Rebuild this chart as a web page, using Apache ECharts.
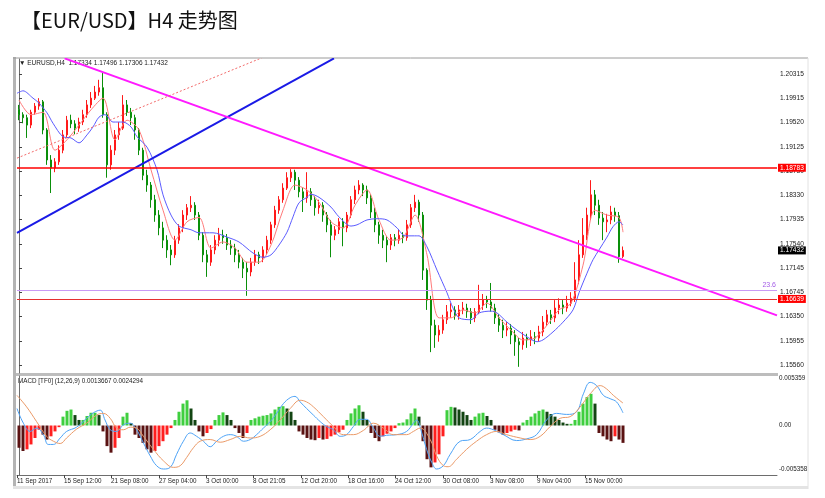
<!DOCTYPE html>
<html><head><meta charset="utf-8">
<script src="https://cdn.jsdelivr.net/npm/echarts@6/dist/echarts.min.js"></script>
<style>html,body{margin:0;padding:0;background:#fff}#c{width:825px;height:498px}</style>
</head><body><div id="c"></div>
<script>
const titleText = '【EUR/USD】H4 走势图';
const headerText = '▼ EURUSD,H4  1.17334 1.17496 1.17306 1.17432';
const macdHeader = 'MACD [TF0] (12,26,9) 0.0013667 0.0024294';

const priceTicks = [1.20315, 1.19915, 1.19520, 1.19125, 1.18730, 1.18330, 1.17935, 1.17540, 1.17145, 1.16745, 1.16350, 1.15955, 1.15560];
const macdTicks = [0.005359, 0, -0.005358];
const timeTickPos = [-0.5, 11.25, 23, 35, 46.75, 58.5, 70.5, 82.25, 94, 106, 117.75, 129.5, 141.5];
const timeTickLabels = ['11 Sep 2017', '15 Sep 12:00', '21 Sep 08:00', '27 Sep 04:00', '3 Oct 00:00', '8 Oct 21:05', '12 Oct 20:00', '18 Oct 16:00', '24 Oct 12:00', '30 Oct 08:00', '3 Nov 08:00', '9 Nov 04:00', '15 Nov 00:00'];

// [open, close, low, high]
const candles = [
[1.1973,1.1965,1.1956,1.1981],[1.1965,1.1960,1.1951,1.1969],[1.1960,1.1948,1.1927,1.1965],[1.1948,1.1969,1.1943,1.1973],
[1.1969,1.1979,1.1965,1.1984],[1.1979,1.1986,1.1973,1.1992],[1.1986,1.1940,1.1933,1.1989],[1.1940,1.1891,1.1883,1.1943],
[1.1891,1.1878,1.1837,1.1899],[1.1878,1.1888,1.1871,1.1894],[1.1888,1.1907,1.1883,1.1915],[1.1907,1.1932,1.1902,1.1940],
[1.1932,1.1956,1.1927,1.1963],[1.1956,1.1950,1.1943,1.1965],[1.1950,1.1943,1.1933,1.1956],[1.1943,1.1953,1.1937,1.1960],
[1.1953,1.1965,1.1948,1.1973],[1.1965,1.1981,1.1960,1.1989],[1.1981,1.1992,1.1976,1.2002],[1.1992,1.2002,1.1989,1.2012],
[1.2002,1.2009,1.1996,1.2022],[1.2009,1.1965,1.1960,1.2033],[1.1965,1.1883,1.1862,1.1969],[1.1883,1.1907,1.1875,1.1915],
[1.1907,1.1932,1.1899,1.1940],[1.1932,1.1943,1.1924,1.1953],[1.1943,1.1981,1.1940,1.1997],[1.1981,1.1969,1.1963,1.1989],
[1.1969,1.1960,1.1948,1.1976],[1.1960,1.1940,1.1924,1.1965],[1.1940,1.1907,1.1899,1.1943],[1.1907,1.1866,1.1858,1.1911],
[1.1866,1.1850,1.1839,1.1875],[1.1850,1.1826,1.1813,1.1855],[1.1826,1.1801,1.1790,1.1834],[1.1801,1.1780,1.1768,1.1809],
[1.1780,1.1760,1.1747,1.1790],[1.1760,1.1744,1.1731,1.1768],[1.1744,1.1736,1.1719,1.1752],[1.1736,1.1760,1.1731,1.1767],
[1.1760,1.1780,1.1754,1.1786],[1.1780,1.1801,1.1773,1.1809],[1.1801,1.1813,1.1793,1.1819],[1.1813,1.1817,1.1806,1.1832],
[1.1817,1.1801,1.1793,1.1822],[1.1801,1.1768,1.1760,1.1806],[1.1768,1.1736,1.1724,1.1773],[1.1736,1.1724,1.1700,1.1744],
[1.1724,1.1744,1.1718,1.1752],[1.1744,1.1760,1.1737,1.1768],[1.1760,1.1768,1.1750,1.1780],[1.1768,1.1764,1.1754,1.1777],
[1.1764,1.1752,1.1744,1.1770],[1.1752,1.1747,1.1736,1.1760],[1.1747,1.1736,1.1724,1.1754],[1.1736,1.1724,1.1714,1.1744],
[1.1724,1.1714,1.1698,1.1731],[1.1714,1.1708,1.1669,1.1724],[1.1708,1.1724,1.1701,1.1731],[1.1724,1.1736,1.1718,1.1744],
[1.1736,1.1731,1.1721,1.1741],[1.1731,1.1744,1.1724,1.1750],[1.1744,1.1760,1.1737,1.1767],[1.1760,1.1785,1.1754,1.1790],
[1.1785,1.1809,1.1780,1.1816],[1.1809,1.1826,1.1803,1.1832],[1.1826,1.1845,1.1821,1.1853],[1.1845,1.1862,1.1842,1.1871],
[1.1862,1.1871,1.1855,1.1876],[1.1871,1.1858,1.1842,1.1875],[1.1858,1.1839,1.1830,1.1863],[1.1839,1.1829,1.1806,1.1845],
[1.1829,1.1839,1.1821,1.1871],[1.1839,1.1826,1.1816,1.1845],[1.1826,1.1813,1.1800,1.1832],[1.1813,1.1817,1.1803,1.1826],
[1.1817,1.1801,1.1790,1.1822],[1.1801,1.1785,1.1773,1.1806],[1.1785,1.1768,1.1732,1.1793],[1.1768,1.1777,1.1760,1.1783],
[1.1777,1.1790,1.1770,1.1796],[1.1790,1.1780,1.1750,1.1796],[1.1780,1.1801,1.1773,1.1806],[1.1801,1.1826,1.1796,1.1832],
[1.1826,1.1842,1.1819,1.1849],[1.1842,1.1850,1.1835,1.1858],[1.1850,1.1842,1.1832,1.1853],[1.1842,1.1829,1.1819,1.1849],
[1.1829,1.1806,1.1796,1.1835],[1.1806,1.1785,1.1773,1.1813],[1.1785,1.1768,1.1754,1.1790],[1.1768,1.1760,1.1747,1.1777],
[1.1760,1.1752,1.1724,1.1767],[1.1752,1.1764,1.1744,1.1770],[1.1764,1.1760,1.1750,1.1770],[1.1760,1.1768,1.1754,1.1777],
[1.1768,1.1764,1.1755,1.1773],[1.1764,1.1785,1.1759,1.1793],[1.1785,1.1813,1.1780,1.1819],[1.1813,1.1822,1.1806,1.1834],
[1.1822,1.1801,1.1790,1.1826],[1.1801,1.1711,1.1695,1.1806],[1.1711,1.1662,1.1646,1.1714],[1.1662,1.1621,1.1577,1.1669],
[1.1621,1.1605,1.1584,1.1630],[1.1605,1.1613,1.1594,1.1621],[1.1613,1.1630,1.1607,1.1638],[1.1630,1.1643,1.1623,1.1654],
[1.1643,1.1646,1.1633,1.1657],[1.1646,1.1636,1.1630,1.1652],[1.1636,1.1646,1.1630,1.1654],[1.1646,1.1649,1.1639,1.1659],
[1.1649,1.1643,1.1633,1.1656],[1.1643,1.1633,1.1623,1.1649],[1.1633,1.1643,1.1626,1.1649],[1.1643,1.1654,1.1639,1.1687],
[1.1654,1.1662,1.1646,1.1672],[1.1662,1.1659,1.1649,1.1669],[1.1659,1.1649,1.1643,1.1690],[1.1649,1.1633,1.1623,1.1656],
[1.1633,1.1621,1.1610,1.1639],[1.1621,1.1613,1.1600,1.1630],[1.1613,1.1616,1.1603,1.1626],[1.1616,1.1605,1.1590,1.1623],
[1.1605,1.1594,1.1571,1.1613],[1.1594,1.1589,1.1553,1.1600],[1.1589,1.1600,1.1581,1.1610],[1.1600,1.1597,1.1584,1.1607],
[1.1597,1.1602,1.1587,1.1613],[1.1602,1.1600,1.1590,1.1610],[1.1600,1.1610,1.1594,1.1620],[1.1610,1.1626,1.1603,1.1636],
[1.1626,1.1638,1.1620,1.1646],[1.1638,1.1633,1.1623,1.1646],[1.1633,1.1649,1.1626,1.1662],[1.1649,1.1654,1.1639,1.1665],
[1.1654,1.1649,1.1639,1.1662],[1.1649,1.1657,1.1643,1.1669],[1.1657,1.1665,1.1652,1.1675],[1.1665,1.1695,1.1659,1.1724],
[1.1695,1.1736,1.1688,1.1760],[1.1736,1.1768,1.1731,1.1796],[1.1768,1.1801,1.1760,1.1813],[1.1801,1.1834,1.1793,1.1858],
[1.1834,1.1817,1.1801,1.1842],[1.1817,1.1796,1.1785,1.1826],[1.1796,1.1790,1.1760,1.1806],[1.1790,1.1793,1.1773,1.1803],
[1.1793,1.1806,1.1786,1.1816],[1.1806,1.1800,1.1790,1.1813],[1.1800,1.1733,1.1723,1.1806],[1.17334,1.17432,1.17306,1.17496]
];

// moving averages: [bar index, price]
const maFast = [[0,1.1989],[3,1.1965],[6,1.1969],[9,1.1907],[12,1.1924],[15,1.1948],[18,1.1973],[21,1.1992],[24,1.1924],[27,1.1956],[30,1.1940],[33,1.1875],[36,1.1809],[39,1.1760],[42,1.1790],[45,1.1797],[48,1.1747],[51,1.1757],[54,1.1747],[57,1.1724],[60,1.1724],[63,1.1752],[66,1.1809],[69,1.1850],[72,1.1842],[75,1.1822],[78,1.1790],[81,1.1780],[84,1.1817],[87,1.1842],[90,1.1793],[93,1.1760],[96,1.1764],[99,1.1801],[102,1.1736],[105,1.1633],[108,1.1633],[111,1.1646],[114,1.1641],[117,1.1657],[120,1.1633],[123,1.1613],[126,1.1597],[129,1.1600],[132,1.1621],[135,1.1646],[138,1.1657],[141,1.1719],[144,1.1809],[147,1.1801],[150,1.1797],[151,1.1773]];
const maSlow = [[-0.5,1.2000],[1,1.2004],[3.5,1.1992],[5,1.1984],[7,1.1968],[8.5,1.1951],[11,1.1929],[13,1.1927],[15,1.1919],[17,1.1932],[18.5,1.1945],[20,1.1961],[21.5,1.1965],[23.5,1.1953],[26,1.1953],[28,1.1945],[29.5,1.1929],[32,1.1912],[34.5,1.1875],[36,1.1834],[38,1.1801],[40,1.1783],[43,1.1777],[45,1.1772],[48.5,1.1772],[52,1.1765],[55,1.1757],[58.5,1.1739],[61,1.1732],[63,1.1736],[65,1.1752],[67,1.1773],[68.5,1.1798],[70,1.1821],[72,1.1830],[73,1.1835],[75,1.1830],[78,1.1814],[80,1.1798],[83,1.1783],[84.5,1.1785],[87,1.1793],[89.5,1.1795],[92,1.1793],[94.5,1.1780],[96.5,1.1767],[98.5,1.1767],[100,1.1767],[102,1.1749],[104.5,1.1711],[107,1.1674],[108.5,1.1649],[110,1.1633],[113,1.1630],[115,1.1641],[118,1.1644],[119.5,1.1641],[122,1.1626],[124.5,1.1613],[127,1.1602],[129.5,1.1594],[131,1.1597],[133.5,1.1610],[136,1.1626],[138.5,1.1646],[140,1.1674],[142,1.1706],[143.5,1.1728],[145,1.1744],[147,1.1765],[148.5,1.1782],[150,1.1790],[151,1.1785]];

// drawn trend lines: [bar index, price]
const trendBlue = [[-0.5, 1.1772], [78.75, 1.2057]];
const trendMagenta = [[11.4, 1.2057], [189.5, 1.1637]];
const trendRedDot = [[-0.5, 1.1894], [60.75, 1.2058]];
const levelResistance = 1.18783;
const levelSupport = 1.16639;
const levelFib = 1.16786;
const fibLabel = '23.6';
const lastPrice = 1.17432;

const macdHist = [
-0.00241,-0.00276,-0.00258,-0.00205,-0.00135,-0.00046,-0.00099,-0.00152,-0.00117,-0.00064,
-0.00018,0.00096,0.00159,0.00173,0.00113,0.00060,0.00060,0.00103,0.00138,0.00138,
0.00113,-0.00064,-0.00223,-0.00294,-0.00241,-0.00135,0.00096,0.00138,0.00025,-0.00099,
-0.00135,-0.00188,-0.00258,-0.00294,-0.00276,-0.00223,-0.00170,-0.00099,-0.00028,0.00060,
0.00149,0.00237,0.00273,0.00184,0.00060,-0.00064,-0.00117,-0.00081,-0.00039,0.00060,
0.00113,0.00142,0.00113,0.00060,-0.00028,-0.00081,-0.00135,-0.00081,0.00060,0.00078,
0.00096,0.00106,0.00113,0.00131,0.00173,0.00202,0.00209,0.00184,0.00149,0.00060,
-0.00064,-0.00099,-0.00135,-0.00152,-0.00159,-0.00135,-0.00152,-0.00145,-0.00117,-0.00099,
-0.00074,-0.00046,0.00060,0.00131,0.00184,0.00219,0.00149,0.00060,-0.00081,-0.00135,
-0.00170,-0.00117,-0.00089,-0.00064,-0.00028,0.00025,0.00032,0.00067,0.00131,0.00184,
0.00096,-0.00170,-0.00365,-0.00453,-0.00400,-0.00312,-0.00117,0.00166,0.00202,0.00195,
0.00173,0.00149,0.00113,0.00060,0.00096,0.00131,0.00138,0.00103,0.00060,-0.00046,
-0.00074,-0.00099,-0.00081,-0.00064,-0.00046,-0.00053,0.00032,0.00060,0.00096,0.00131,
0.00159,0.00173,0.00149,0.00124,0.00096,0.00060,0.00032,0.00018,0.00018,0.00060,
0.00149,0.00237,0.00308,0.00343,0.00237,-0.00081,-0.00117,-0.00152,-0.00170,-0.00117,
-0.00152,-0.00188
];
const macdMain = [[-0.5,0.00184],[1.1,0.00025],[2.8,-0.00064],[4.4,-0.00028],[6.1,-0.00099],[7.3,-0.00205],[8.6,-0.00205],[10.3,-0.00135],[11.9,-0.00064],[14.4,-0.00018],[16.9,0.00078],[18.6,0.00138],[20.3,0.00166],[21.5,0.00060],[22.8,-0.00046],[24.4,-0.00064],[26.1,0.00007],[27.8,0.00025],[29.4,-0.00046],[31.1,-0.00188],[32.8,-0.00329],[34.4,-0.00435],[36.1,-0.00471],[37.8,-0.00453],[39.4,-0.00312],[41.1,-0.00170],[42.8,-0.00081],[44.4,-0.00117],[46.1,-0.00170],[47.8,-0.00230],[49.4,-0.00170],[51.1,-0.00117],[52.8,-0.00099],[54.4,-0.00117],[56.1,-0.00170],[57.8,-0.00152],[59.4,-0.00099],[61.1,-0.00028],[62.8,0.00042],[64.4,0.00131],[66.1,0.00237],[67.8,0.00301],[69,0.00315],[70.3,0.00255],[71.9,0.00184],[73.6,0.00113],[75.3,0.00042],[76.9,-0.00011],[78.6,-0.00046],[80.3,-0.00117],[81.9,-0.00099],[83.6,-0.00011],[85.3,0.00067],[86.9,0.00067],[88.6,-0.00028],[90.3,-0.00117],[91.9,-0.00106],[94.4,-0.00099],[96.9,-0.00064],[98.6,0.00025],[99.4,0.00060],[100.7,-0.00081],[101.9,-0.00258],[103.2,-0.00400],[104.4,-0.00471],[106.1,-0.00435],[107.8,-0.00312],[110.3,-0.00170],[112.8,-0.00152],[115.3,-0.00064],[116.9,-0.00028],[118.6,-0.00046],[121.1,-0.00099],[124.4,-0.00163],[126.9,-0.00145],[129.4,-0.00099],[131.9,0.00060],[134.4,0.00131],[136.9,0.00120],[139.4,0.00149],[141.1,0.00343],[142.8,0.00467],[144.4,0.00432],[146.1,0.00326],[147.8,0.00290],[149.4,0.00255],[151,0.00137]];
const macdSignal = [[-0.5,0.00326],[1.9,0.00202],[4.4,0.00042],[6.9,-0.00117],[8.6,-0.00170],[10.3,-0.00195],[11.9,-0.00135],[14.4,-0.00039],[16.9,0.00025],[19.4,0.00113],[21.1,0.00131],[22.8,0.00078],[24.4,-0.00028],[26.1,-0.00046],[27.8,-0.00018],[29.4,-0.00028],[31.1,-0.00117],[33.6,-0.00258],[36.1,-0.00382],[38.6,-0.00453],[40.3,-0.00435],[41.9,-0.00347],[43.6,-0.00241],[45.3,-0.00170],[47.8,-0.00152],[50.3,-0.00181],[52.8,-0.00152],[55.3,-0.00117],[57.8,-0.00135],[60.3,-0.00117],[62.8,-0.00046],[65.3,0.00060],[67.8,0.00184],[70.3,0.00273],[71.9,0.00255],[73.6,0.00202],[76.1,0.00096],[78.6,-0.00011],[81.1,-0.00099],[83.6,-0.00099],[86.1,-0.00053],[88.6,0.00025],[91.1,-0.00028],[93.6,-0.00099],[96.9,-0.00099],[98.6,-0.00064],[100.3,-0.00028],[102.8,-0.00152],[104.4,-0.00329],[106.1,-0.00435],[107.3,-0.00446],[109.4,-0.00365],[111.9,-0.00258],[114.4,-0.00170],[116.9,-0.00099],[119.4,-0.00064],[121.9,-0.00099],[125.3,-0.00135],[127.8,-0.00152],[130.3,-0.00117],[132.8,-0.00011],[135.3,0.00078],[137.8,0.00096],[140.3,0.00202],[142.8,0.00343],[145.3,0.00432],[146.9,0.00396],[148.6,0.00326],[151,0.00243]];

const FONT = '"Liberation Sans", Arial, sans-serif';
const chart = echarts.init(document.getElementById('c'), null, {renderer: 'canvas'});

const candleData = candles.map((c, i) => [i, c[0], c[1], c[2], c[3]]);
const histData = macdHist.map((v, i) => {
  const prev = i > 0 ? macdHist[i - 1] : v;
  let color;
  if (v >= 0) color = v >= prev ? '#3fcf3f' : '#134513';
  else color = (i === 0 || v < prev) ? '#5a1212' : '#ff1f1f';
  return {value: [i, v], itemStyle: {color}};
});
const levelLabel = (bg, val) => ({
  show: true, position: 'end', distance: 1,
  formatter: val.toFixed(5),
  color: '#fff', backgroundColor: bg, fontFamily: FONT, fontSize: 6.6,
  padding: [1, 2, 0, 2], lineHeight: 7
});
const findTick = v => timeTickPos.findIndex(p => Math.abs(p - v) < 1e-6);

chart.setOption({
  animation: false,
  backgroundColor: '#ffffff',
  textStyle: {fontFamily: FONT},
  grid: [
    {left: 17, top: 59, width: 760, height: 314},
    {left: 17, top: 376, width: 760, height: 99}
  ],
  xAxis: [
    {gridIndex: 0, type: 'value', min: -0.5, max: 189.5, show: false},
    {gridIndex: 1, type: 'value', min: -0.5, max: 189.5,
      axisLine: {show: true, onZero: false, lineStyle: {color: '#6d6d6d', width: 1}},
      axisTick: {show: true, length: 3, customValues: timeTickPos, lineStyle: {color: '#444'}},
      axisLabel: {show: true, customValues: timeTickPos,
        formatter: v => { const k = findTick(v); return k >= 0 ? timeTickLabels[k] : ''; },
        align: 'left', margin: 3, fontSize: 6.3, color: '#222', fontFamily: FONT},
      splitLine: {show: false}}
  ],
  yAxis: [
    {gridIndex: 0, type: 'value', position: 'right', min: 1.15429, max: 1.20560,
      axisLine: {show: true, lineStyle: {color: '#6d6d6d'}},
      axisTick: {show: true, length: 3, customValues: priceTicks, lineStyle: {color: '#444'}},
      axisLabel: {customValues: priceTicks, formatter: v => v.toFixed(5), margin: 3, fontSize: 6.6, color: '#222', fontFamily: FONT},
      splitLine: {show: false}},
    {gridIndex: 1, type: 'value', position: 'right', min: -0.005358, max: 0.005359,
      axisLine: {show: true, lineStyle: {color: '#6d6d6d'}},
      axisTick: {show: false},
      axisLabel: {customValues: macdTicks,
        formatter: v => v === 0 ? '0.00' : (v < 0 ? '{lo|' + v.toFixed(6) + '}' : '{hi|' + v.toFixed(6) + '}'),
        margin: 2, fontSize: 6.3, color: '#222', fontFamily: FONT,
        rich: {lo: {fontSize: 6.3, color: '#222', fontFamily: FONT, padding: [0, 0, 11, 0]},
               hi: {fontSize: 6.3, color: '#222', fontFamily: FONT, padding: [5, 0, 0, 0]}}},
      splitLine: {show: false}}
  ],
  series: [
    {type: 'candlestick', xAxisIndex: 0, yAxisIndex: 0, data: candleData, barWidth: 2,
      itemStyle: {color: '#ff1a1a', color0: '#0a8f0a', borderColor: '#ff1a1a', borderColor0: '#0a8f0a', borderWidth: 1},
      markLine: {symbol: 'none', silent: true, animation: false, precision: 5,
        data: [
          {yAxis: levelFib, lineStyle: {color: '#c89af5', width: 1, type: 'solid'},
            label: {show: true, position: 'insideEndTop', formatter: fibLabel, color: '#a35ce6', fontSize: 7, fontFamily: FONT, distance: 1}},
          {yAxis: levelSupport, lineStyle: {color: '#e53030', width: 1, type: 'solid'}, label: levelLabel('#ff0000', levelSupport)},
          {yAxis: levelResistance, lineStyle: {color: '#ff0000', width: 1.5, type: 'solid'}, label: levelLabel('#ff0000', levelResistance)},
          {yAxis: lastPrice, lineStyle: {color: 'rgba(0,0,0,0)', width: 0}, label: levelLabel('#000000', lastPrice)}
        ]}},
    {type: 'line', xAxisIndex: 0, yAxisIndex: 0, data: maFast, showSymbol: false, smooth: 0.3, lineStyle: {color: '#ff7a7a', width: 1}},
    {type: 'line', xAxisIndex: 0, yAxisIndex: 0, data: maSlow, showSymbol: false, smooth: 0.3, lineStyle: {color: '#5c5cff', width: 1}},
    {type: 'line', xAxisIndex: 0, yAxisIndex: 0, data: trendBlue, showSymbol: false, clip: true, lineStyle: {color: '#1a1ae6', width: 2}},
    {type: 'line', xAxisIndex: 0, yAxisIndex: 0, data: trendMagenta, showSymbol: false, clip: true, lineStyle: {color: '#ff1aff', width: 2}},
    {type: 'line', xAxisIndex: 0, yAxisIndex: 0, data: trendRedDot, showSymbol: false, clip: true, lineStyle: {color: '#f26a6a', width: 1, type: [2, 2]}},
    {type: 'bar', xAxisIndex: 1, yAxisIndex: 1, data: histData, barWidth: 3},
    {type: 'line', xAxisIndex: 1, yAxisIndex: 1, data: macdMain, showSymbol: false, smooth: 0.4, lineStyle: {color: '#4da3f7', width: 1}},
    {type: 'line', xAxisIndex: 1, yAxisIndex: 1, data: macdSignal, showSymbol: false, smooth: 0.4, lineStyle: {color: '#eb9a68', width: 1}}
  ],
  graphic: [
    {type: 'rect', shape: {x: 13, y: 57, width: 3, height: 432}, style: {fill: '#b4b4b4'}},
    {type: 'line', shape: {x1: 13, y1: 58, x2: 808, y2: 58}, style: {stroke: '#9a9a9a', lineWidth: 1}},
    {type: 'rect', shape: {x: 16, y: 373, width: 762, height: 3}, style: {fill: '#bdbdbd'}},
    {type: 'rect', shape: {x: 13, y: 486, width: 795, height: 3}, style: {fill: '#e4e4e4'}},
    {type: 'line', shape: {x1: 808, y1: 58, x2: 808, y2: 489}, style: {stroke: '#e2e2e2', lineWidth: 1}},
    {type: 'text', x: 21, y: 10, style: {text: titleText, font: '20px "Noto Sans CJK SC"', fill: '#111', textVerticalAlign: 'top'}},
    {type: 'text', x: 19, y: 59.5, style: {text: headerText, font: '6.5px "Liberation Sans"', fill: '#222', textVerticalAlign: 'top'}},
    {type: 'text', x: 18, y: 378, style: {text: macdHeader, font: '6.3px "Liberation Sans"', fill: '#222', textVerticalAlign: 'top'}}
  ]
});
</script>
</body></html>
